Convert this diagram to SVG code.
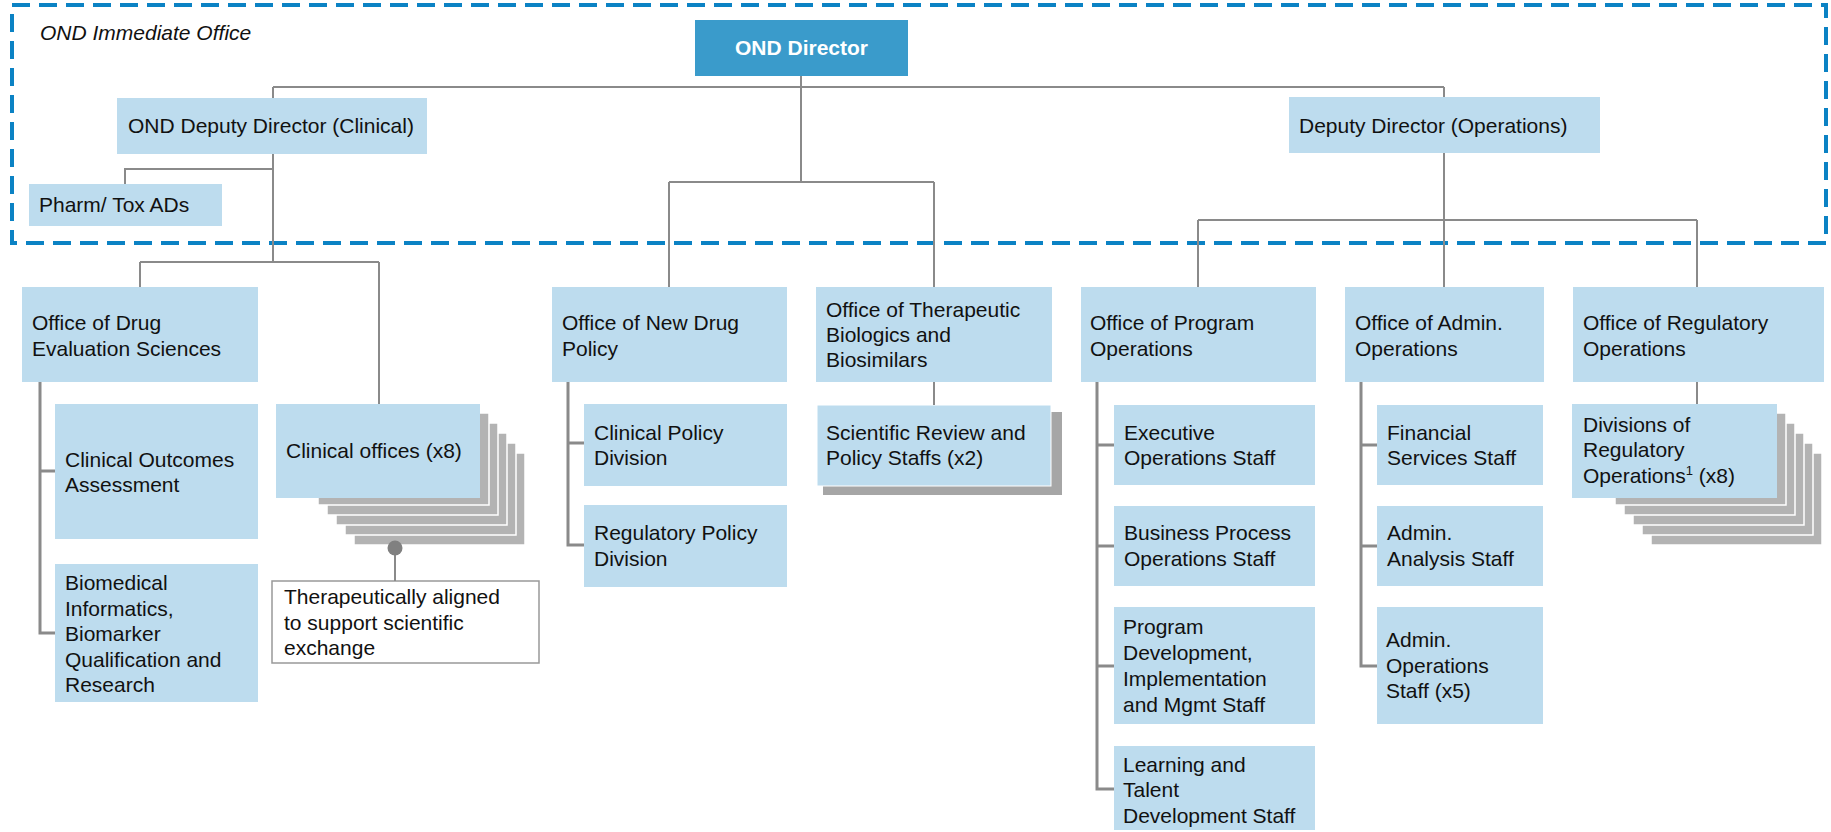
<svg xmlns="http://www.w3.org/2000/svg" width="1831" height="832" viewBox="0 0 1831 832">
<defs>
<style>
.t{font-family:"Liberation Sans",Arial,sans-serif;font-size:21px;fill:#111}
.b{fill:#bddcee}
.ln{fill:none;stroke:#8a8a8a;stroke-width:2}
.br{fill:none;stroke:#8a8a8a;stroke-width:3}
.ly{fill:#b3b3b3;stroke:#fff;stroke-width:1.5}
</style>
</defs>
<rect width="1831" height="832" fill="#fff"/>
<g id="immediate-office">
<rect x="12" y="5" width="1814" height="238" fill="none" stroke="#0b82c4" stroke-width="4" stroke-dasharray="18 9"/>
<text class="t" x="40" y="40" font-style="italic">OND Immediate Office</text>
</g>
<g id="ond-director">
<rect x="695" y="20" width="213" height="56" fill="#3a9bcb"/>
<text class="t" x="801.5" y="55" text-anchor="middle" font-weight="bold" style="fill:#fff">OND Director</text>
</g>
<g id="deputy-clinical">
<rect class="b" x="117" y="98" width="310" height="56"/>
<text class="t" x="128" y="133">OND Deputy Director (Clinical)</text>
</g>
<g id="pharm-tox">
<rect class="b" x="29" y="184" width="193" height="42"/>
<text class="t" x="39" y="212">Pharm/ Tox ADs</text>
</g>
<g id="deputy-operations">
<rect class="b" x="1289" y="97" width="311" height="56"/>
<text class="t" x="1299" y="133">Deputy Director (Operations)</text>
</g>
<g id="odes">
<rect class="b" x="22" y="287" width="236" height="95"/>
<text class="t" x="32" y="330">Office of Drug<tspan x="32" y="356">Evaluation Sciences</tspan></text>
</g>
<g id="coa">
<rect class="b" x="55" y="404" width="203" height="135"/>
<text class="t" x="65" y="467">Clinical Outcomes<tspan x="65" y="492">Assessment</tspan></text>
</g>
<g id="biomedical">
<rect class="b" x="55" y="564" width="203" height="138"/>
<text class="t" x="65" y="590">Biomedical<tspan x="65" y="616">Informatics,</tspan><tspan x="65" y="641">Biomarker</tspan><tspan x="65" y="667">Qualification and</tspan><tspan x="65" y="692">Research</tspan></text>
</g>
<g id="clinical-offices">
<rect class="ly" x="354" y="453" width="171" height="92"/>
<rect class="ly" x="345" y="443" width="171" height="92"/>
<rect class="ly" x="336" y="433" width="171" height="92"/>
<rect class="ly" x="327" y="423" width="171" height="92"/>
<rect class="ly" x="318" y="413" width="171" height="92"/>
<rect class="b" x="276" y="404" width="204" height="94"/>
<text class="t" x="286" y="458">Clinical offices (x8)</text>
</g>
<g id="callout">
<rect x="272" y="581" width="267" height="82" fill="#fff" stroke="#999" stroke-width="1.5"/>
<text class="t" x="284" y="604">Therapeutically aligned<tspan x="284" y="630">to support scientific</tspan><tspan x="284" y="655">exchange</tspan></text>
</g>
<g id="ondp">
<rect class="b" x="552" y="287" width="235" height="95"/>
<text class="t" x="562" y="330">Office of New Drug<tspan x="562" y="356">Policy</tspan></text>
</g>
<g id="cpd">
<rect class="b" x="584" y="404" width="203" height="82"/>
<text class="t" x="594" y="440">Clinical Policy<tspan x="594" y="465">Division</tspan></text>
</g>
<g id="rpd">
<rect class="b" x="584" y="505" width="203" height="82"/>
<text class="t" x="594" y="540">Regulatory Policy<tspan x="594" y="566">Division</tspan></text>
</g>
<g id="otbb">
<rect class="b" x="816" y="287" width="236" height="95"/>
<text class="t" x="826" y="317">Office of Therapeutic<tspan x="826" y="342">Biologics and</tspan><tspan x="826" y="367">Biosimilars</tspan></text>
</g>
<g id="srps">
<rect x="823" y="412" width="239" height="83" fill="#a6a6a6"/>
<rect class="b" x="817" y="405" width="234" height="81" stroke="#fff" stroke-width="1"/>
<text class="t" x="826" y="440">Scientific Review and<tspan x="826" y="465">Policy Staffs (x2)</tspan></text>
</g>
<g id="opo">
<rect class="b" x="1081" y="287" width="235" height="95"/>
<text class="t" x="1090" y="330">Office of Program<tspan x="1090" y="356">Operations</tspan></text>
</g>
<g id="eos">
<rect class="b" x="1114" y="405" width="201" height="80"/>
<text class="t" x="1124" y="440">Executive<tspan x="1124" y="465">Operations Staff</tspan></text>
</g>
<g id="bpo">
<rect class="b" x="1114" y="506" width="201" height="80"/>
<text class="t" x="1124" y="540">Business Process<tspan x="1124" y="566">Operations Staff</tspan></text>
</g>
<g id="pdi">
<rect class="b" x="1114" y="607" width="201" height="117"/>
<text class="t" x="1123" y="634">Program<tspan x="1123" y="660">Development,</tspan><tspan x="1123" y="686">Implementation</tspan><tspan x="1123" y="712">and Mgmt Staff</tspan></text>
</g>
<g id="ltd">
<rect class="b" x="1114" y="746" width="201" height="84"/>
<text class="t" x="1123" y="772">Learning and<tspan x="1123" y="797">Talent</tspan><tspan x="1123" y="823">Development Staff</tspan></text>
</g>
<g id="oao">
<rect class="b" x="1345" y="287" width="199" height="95"/>
<text class="t" x="1355" y="330">Office of Admin.<tspan x="1355" y="356">Operations</tspan></text>
</g>
<g id="fss">
<rect class="b" x="1377" y="405" width="166" height="80"/>
<text class="t" x="1387" y="440">Financial<tspan x="1387" y="465">Services Staff</tspan></text>
</g>
<g id="aas">
<rect class="b" x="1377" y="506" width="166" height="80"/>
<text class="t" x="1387" y="540">Admin.<tspan x="1387" y="566">Analysis Staff</tspan></text>
</g>
<g id="aos">
<rect class="b" x="1377" y="607" width="166" height="117"/>
<text class="t" x="1386" y="647">Admin.<tspan x="1386" y="673">Operations</tspan><tspan x="1386" y="698">Staff (x5)</tspan></text>
</g>
<g id="oro">
<rect class="b" x="1573" y="287" width="251" height="95"/>
<text class="t" x="1583" y="330">Office of Regulatory<tspan x="1583" y="356">Operations</tspan></text>
</g>
<g id="dro">
<rect class="ly" x="1651" y="453" width="171" height="92"/>
<rect class="ly" x="1642" y="443" width="171" height="92"/>
<rect class="ly" x="1633" y="433" width="171" height="92"/>
<rect class="ly" x="1624" y="423" width="171" height="92"/>
<rect class="ly" x="1615" y="413" width="171" height="92"/>
<rect class="b" x="1572" y="404" width="205" height="94"/>
<text class="t" x="1583" y="432">Divisions of<tspan x="1583" y="457">Regulatory</tspan><tspan x="1583" y="483">Operations<tspan font-size="13" dy="-8">1</tspan><tspan dy="8"> (x8)</tspan></tspan></text>
</g>
<g id="connectors">
<path class="ln" d="M801 76V182M273 87H1444M273 87V98M1444 87V97"/>
<path class="ln" d="M273 154V262M273 169H125V184M140 262H379M140 262V287M379 262V404"/>
<path class="ln" d="M669 182H934M669 182V287M934 182V287M934 382V405"/>
<path class="ln" d="M1444 153V220M1198 220H1697M1198 220V287M1444 220V287M1697 220V287M1697 382V404"/>
<path class="br" d="M40 382V633H55M40 471H55"/>
<path class="br" d="M568 382V545H584M568 443H584"/>
<path class="br" d="M1097 382V789H1114M1097 445H1114M1097 546H1114M1097 666H1114"/>
<path class="br" d="M1361 382V666H1377M1361 445H1377M1361 546H1377"/>
<path class="ln" d="M395 548V581"/>
<circle cx="395" cy="548" r="7.5" fill="#808080"/>
</g>
</svg>
